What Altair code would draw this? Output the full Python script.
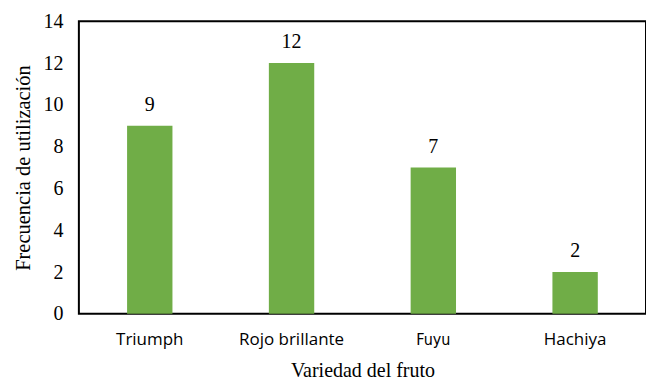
import altair as alt
import pandas as pd

categories = ["Triumph", "Rojo brillante", "Fuyu", "Hachiya"]
values = [9, 12, 7, 2]

df = pd.DataFrame({"variedad": categories, "frecuencia": values})

base = alt.Chart(df).encode(
    x=alt.X("variedad:N", sort=categories,
            scale=alt.Scale(paddingInner=0.68, paddingOuter=0.34),
            axis=alt.Axis(title="Variedad del fruto", labelAngle=0, ticks=False, domain=False,
                          labelFont=alt.ExprRef("datum.value == 'Fuyu' ? \"'DejaVu Sans Condensed', 'Open Sans'\" : 'Open Sans'"),
                          labelFontSize=alt.ExprRef("datum.value == 'Fuyu' ? 16 : 17"),
                          labelColor="black",
                          labelPadding=18, titleFont="Liberation Serif", titleFontSize=20,
                          titleFontWeight="normal", titleColor="black", titlePadding=13)),
    y=alt.Y("frecuencia:Q", scale=alt.Scale(domain=[0, 14]),
            axis=alt.Axis(title="Frecuencia de utilización", values=[0, 2, 4, 6, 8, 10, 12, 14],
                          ticks=False, grid=False, domain=False,
                          labelFont="Liberation Serif", labelFontSize=20, labelColor="black",
                          labelPadding=16, titleFont="Liberation Serif", titleFontSize=20.5,
                          titleFontWeight="normal", titleColor="black", titlePadding=9)),
)

bars = base.mark_bar(color="#70AD47")
labels = base.mark_text(baseline="bottom", dy=-11, font="Liberation Serif", fontSize=20,
                        color="black").encode(text="frecuencia:Q")

chart = (bars + labels).properties(
    width=568, height=293,
    background="white",
    autosize=alt.AutoSizeParams(type="none"),
    padding={"left": 79, "top": 21, "right": 0, "bottom": 67},
).configure_view(stroke="black", strokeWidth=2)

chart.save("out.html", embed_options={"renderer": "svg", "actions": False})
